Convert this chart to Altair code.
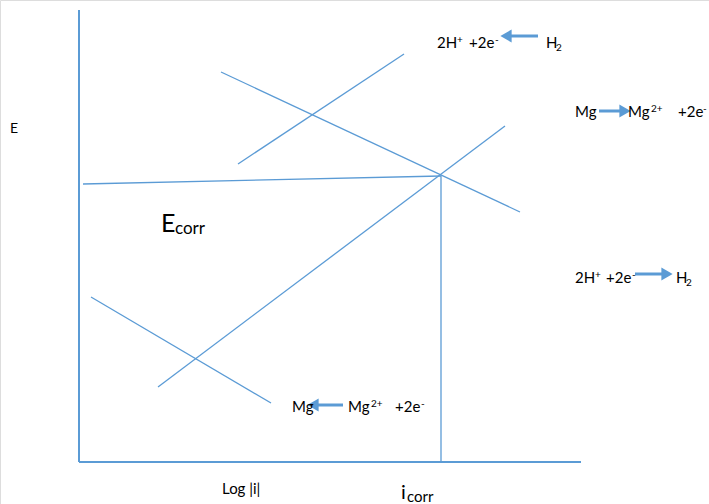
import altair as alt
import pandas as pd

# Evans diagram: potential E against log|i|, drawn on a plain canvas
W, H = 709, 504

# straight polarisation lines (log|i| start, E start, log|i| end, E end)
line_x1 = [238, 221, 83, 158, 91, 441]
line_e1 = [340, 432, 320, 117, 207, 328]
line_x2 = [404, 520, 441, 505, 271, 441]
line_e2 = [450, 292, 328, 378, 101, 42]

# the two axes
axis_x1 = [79, 79]
axis_e1 = [494, 42]
axis_x2 = [79, 581]
axis_e2 = [42, 42]

# reaction arrows: tail, head, level
arrow_tail = [538, 599, 635, 343]
arrow_head = [506, 625, 667, 313]
arrow_e = [468, 393, 230, 99]
arrow_dir = ["triangle-left", "triangle-right", "triangle-right", "triangle-left"]

# text pieces: text, left edge, baseline level, role (n = normal, sup, sub, ...)
piece_text = [
    "2H", "+", "+2e", "-", "H", "2",
    "Mg", "Mg", "2+", "+2e", "-",
    "2H", "+", "+2e", "-", "H", "2",
    "Mg", "Mg", "2+", "+2e", "-",
    "E", "Log |i|",
    "E", "corr", "i", "corr",
]
piece_x = [
    437, 457, 469, 495, 546, 556,
    575, 628, 651, 678, 703,
    575, 595, 606, 632, 676, 686,
    292, 348, 371, 395, 421,
    10, 222,
    161, 175, 401, 407,
]
piece_e = [
    456, 456, 456, 456, 456, 456,
    387, 387, 387, 387, 387,
    221, 221, 221, 221, 221, 221,
    92, 92, 92, 92, 92,
    371, 10,
    272, 270, 5, 2,
]
piece_role = [
    "n", "sup", "n", "sup", "n", "sub",
    "n", "n", "sup", "n", "sup",
    "n", "sup", "n", "sup", "n", "sub",
    "n", "n", "sup", "n", "sup",
    "axE", "ax",
    "bigE", "bigsub", "bigi", "isub",
]

BLUE = "#5b9bd5"
FONT = "Lato"

# font size and vertical shift for each text role
role_size = {"n": 15, "sup": 10, "sub": 10, "axE": 14, "ax": 15,
             "bigE": 25, "bigsub": 17, "bigi": 20, "isub": 15}
role_shift = {"n": 0, "sup": 5, "sub": -3, "axE": 0, "ax": 0,
              "bigE": 0, "bigsub": 0, "bigi": 0, "isub": 0}

xs = alt.Scale(domain=[0, W], nice=False, zero=False)
ys = alt.Scale(domain=[0, H], nice=False, zero=False)


def xy(xf="x", yf="e"):
    return dict(
        x=alt.X(f"{xf}:Q", scale=xs, axis=None),
        y=alt.Y(f"{yf}:Q", scale=ys, axis=None),
    )


lines = pd.DataFrame({"x": line_x1, "e": line_e1, "x2": line_x2, "e2": line_e2})
axes = pd.DataFrame({"x": axis_x1, "e": axis_e1, "x2": axis_x2, "e2": axis_e2})
arrows = pd.DataFrame({"x": arrow_tail, "x2": arrow_head, "e": arrow_e, "shape": arrow_dir})
pieces = pd.DataFrame({
    "t": piece_text,
    "x": piece_x,
    "e": [e + role_shift[r] for e, r in zip(piece_e, piece_role)],
    "s": [role_size[r] for r in piece_role],
})

line_layer = alt.Chart(lines).mark_rule(color=BLUE, strokeWidth=1.3).encode(
    **xy(), x2="x2:Q", y2="e2:Q"
)
axis_layer = alt.Chart(axes).mark_rule(color=BLUE, strokeWidth=2).encode(
    **xy(), x2="x2:Q", y2="e2:Q"
)
shaft_layer = alt.Chart(arrows).mark_rule(color=BLUE, strokeWidth=3).encode(
    **xy(), x2="x2:Q"
)
head_layer = alt.Chart(arrows).mark_point(
    color=BLUE, filled=True, opacity=1, size=170
).encode(
    x=alt.X("x2:Q", scale=xs, axis=None),
    y=alt.Y("e:Q", scale=ys, axis=None),
    shape=alt.Shape("shape:N", scale=None),
)
text_layer = alt.Chart(pieces).mark_text(
    align="left", baseline="alphabetic", font=FONT, color="#000000"
).encode(**xy(), text="t:N", size=alt.Size("s:Q", scale=None, legend=None))

chart = alt.layer(
    axis_layer, line_layer, shaft_layer, head_layer, text_layer
).properties(
    width=W, height=H, padding=0, autosize=alt.AutoSizeParams(type="none")
).configure_view(stroke=None).configure(background="white")

chart.save("out.html", embed_options={"renderer": "svg", "actions": False})
